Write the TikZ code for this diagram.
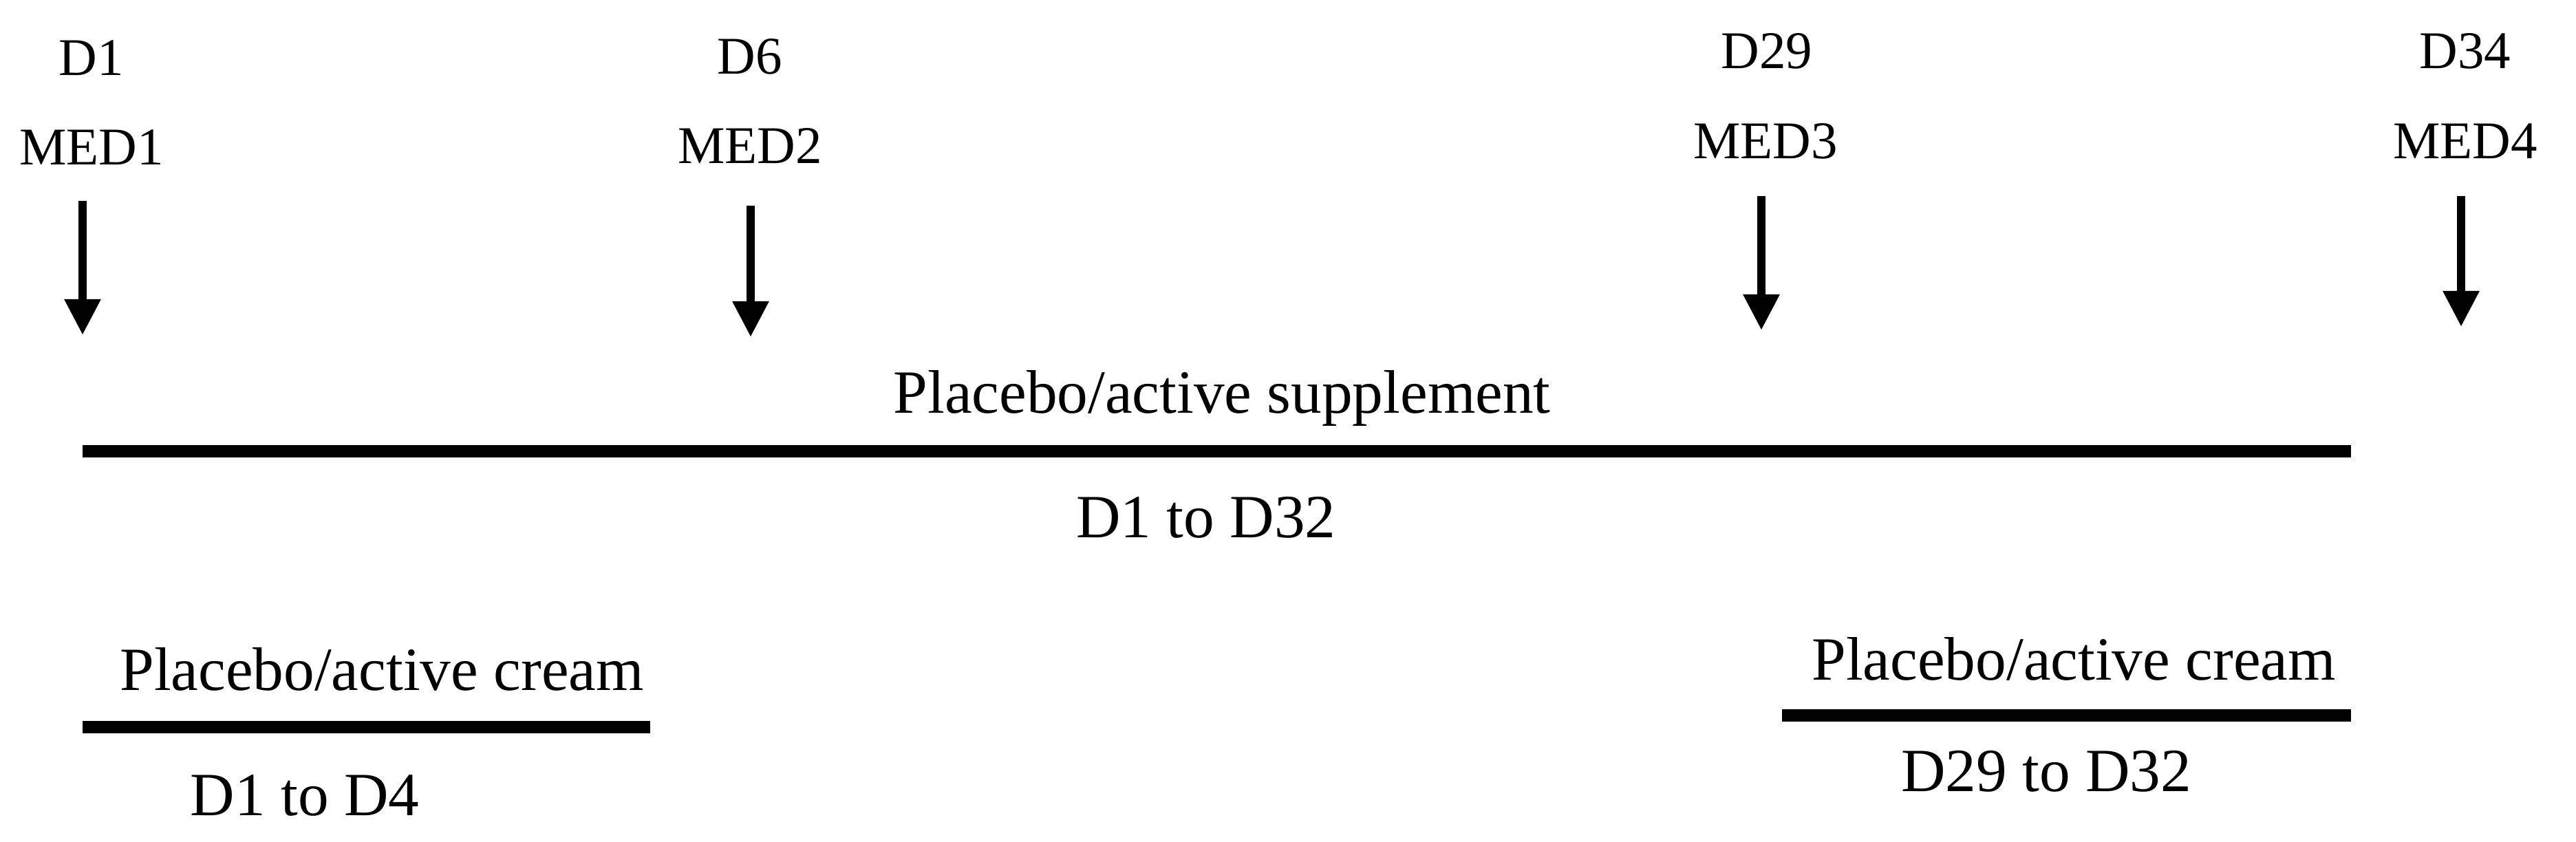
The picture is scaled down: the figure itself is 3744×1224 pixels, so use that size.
\documentclass[tikz,border=0pt]{standalone}
\usepackage{fontspec}
\setmainfont{Liberation Serif}
\usetikzlibrary{arrows.meta}
\tikzset{
  daylbl/.style={inner sep=0pt, anchor=base, font=\fontsize{21.9pt}{24pt}\selectfont},
  phaselbl/.style={inner sep=0pt, anchor=base, font=\fontsize{25.4pt}{28pt}\selectfont},
  medarrow/.style={line width=3.4pt, -{Triangle[length=0.52cm,width=0.5cm]}},
  phasebar/.style={line width=5.2pt},
}
\begin{document}
\begin{tikzpicture}[x=0.01cm,y=-0.01cm]
\useasboundingbox (0,0) rectangle (3744,1224);
% day labels
\node[daylbl] (d1) at (133,109) {D1};
\node[daylbl] (m1) at (133,239) {MED1};
\node[daylbl] (d6) at (1090,107) {D6};
\node[daylbl] (m2) at (1090,237) {MED2};
\node[daylbl] (d29) at (2568,100) {D29};
\node[daylbl] (m3) at (2566,230) {MED3};
\node[daylbl] (d34) at (3583,100) {D34};
\node[daylbl] (m4) at (3583,230) {MED4};
% arrows
\coordinate (a1s) at (120,292); \coordinate (a1e) at (120,487);
\coordinate (a2s) at (1091,299); \coordinate (a2e) at (1091,490);
\coordinate (a3s) at (2560,285); \coordinate (a3e) at (2560,480);
\coordinate (a4s) at (3577,285); \coordinate (a4e) at (3577,475);
\draw[medarrow] (a1s) -- (a1e);
\draw[medarrow] (a2s) -- (a2e);
\draw[medarrow] (a3s) -- (a3e);
\draw[medarrow] (a4s) -- (a4e);
% supplement
\node[phaselbl] (sup) at (1776,600) {Placebo/active supplement};
\coordinate (s1) at (120,656); \coordinate (s2) at (3417,656);
\draw[phasebar] (s1) -- (s2);
\node[phaselbl] (supd) at (1753,781) {D1 to D32};
% left cream
\node[phaselbl] (c1) at (555,1003) {Placebo/active cream};
\coordinate (l1) at (120,1057); \coordinate (l2) at (945,1057);
\draw[phasebar] (l1) -- (l2);
\node[phaselbl] (c1d) at (443,1185) {D1 to D4};
% right cream
\node[phaselbl] (c2) at (3014,988) {Placebo/active cream};
\coordinate (r1) at (2590,1040); \coordinate (r2) at (3417,1040);
\draw[phasebar] (r1) -- (r2);
\node[phaselbl] (c2d) at (2974,1150) {D29 to D32};
\end{tikzpicture}
\end{document}
